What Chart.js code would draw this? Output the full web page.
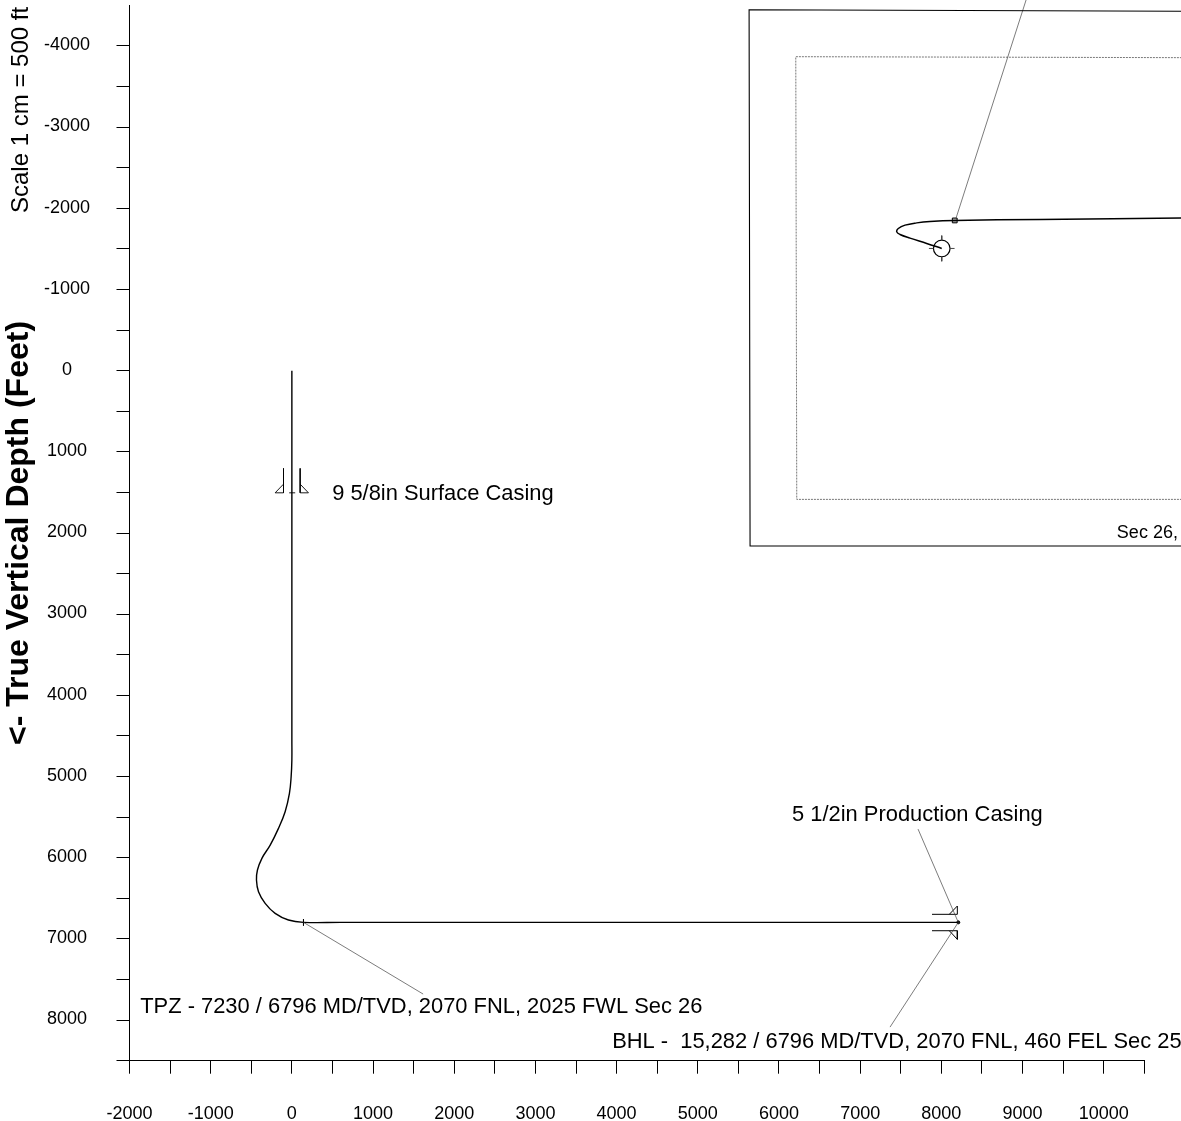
<!DOCTYPE html>
<html>
<head>
<meta charset="utf-8">
<title>Well plot</title>
<script src="https://cdn.jsdelivr.net/npm/chart.js@4"></script>
<style>
  html, body { margin: 0; padding: 0; background: #fff; overflow: hidden; }
  canvas { display: block; }
</style>
</head>
<body>
<canvas id="wellChart" width="1181" height="1121"></canvas>
<script>
// Vertical section (feet)
const sectionX = [0, 0, 0, -9, -30, -83, -165, -267, -369, -424, -436, -411, -329, -206, -42, 143, 600, 8209];
const sectionY = [0, 4550, 4797, 5002, 5207, 5433, 5638, 5844, 6007, 6151, 6275, 6419, 6562, 6685, 6767, 6796, 6796, 6796];

// Surface casing symbol, production casing symbol, TPZ tick (null = pen up)
const surfCasingX = [-103, -103, -206, -103, null, 102, 102, 204, 102, null, -33, 41];
const surfCasingY = [1204, 1505, 1505, 1398, null, 1204, 1505, 1505, 1398, null, 1505, 1505];
const prodCasingX = [7885, 8197, 8197, 8098, null, 7885, 8197, 8197, 8098];
const prodCasingY = [6697, 6697, 6595, 6697, null, 6899, 6899, 7005, 6899];
const tpzTickX = [143, 143];
const tpzTickY = [6756, 6836];

// Leader lines
const leaderX = [143, 1617, null, 7713, 8209, 7368, null, 8181, 9055];
const leaderY = [6796, 7679, null, 5647, 6796, 8086, null, -1878, -4600];

// Plan view inset
const outerBoxX = [11000, 5632, 5644, 11000];
const outerBoxY = [-4427, -4446, 2161, 2161];
const innerBoxX = [11000, 6207, 6219, 11000];
const innerBoxY = [-3855, -3867, 1586, 1586];
const planX = [8005, 7820, 7614, 7491, 7451, 7470, 7553, 7697, 7860, 8165, 9215, 11000];
const planY = [-1505, -1567, -1632, -1677, -1709, -1751, -1792, -1820, -1837, -1850, -1862, -1880];
const targetX = [8005];
const targetY = [-1505];
const targetTickX = [7847, 7903, null, 8107, 8163, null, 8005, 8005, null, 8005, 8005];
const targetTickY = [-1505, -1505, null, -1505, -1505, null, -1663, -1607, null, -1403, -1347];
const kickoffX = [8165];
const kickoffY = [-1850];
const shoeX = [8209];
const shoeY = [6796];

// Text
const noteText = ['9 5/8in Surface Casing', '5 1/2in Production Casing', 'TPZ - 7230 / 6796 MD/TVD, 2070 FNL, 2025 FWL Sec 26', 'BHL -  15,282 / 6796 MD/TVD, 2070 FNL, 460 FEL Sec 25', 'Sec 26,'];
const noteX = [496, 6161, -1868, 3945, 10162];
const noteY = [1522, 5474, 7839, 8270, 2002];
const scaleNote = 'Scale 1 cm = 500 ft';
const yTitle = '<- True Vertical Depth (Feet)';

const FONT = '"Liberation Sans", Arial, sans-serif';

function pts(xs, ys) {
    return xs.map((x, i) => ({ x: x, y: ys[i] }));
}

function path(xs, ys, width, color, extra) {
    return Object.assign({
        data: pts(xs, ys),
        showLine: true,
        borderColor: color,
        borderWidth: width,
        pointRadius: 0,
        clip: false
    }, extra || {});
}

// Only every second tick has a number
function thousands(v) {
    return v % 1000 === 0 ? String(v) : '';
}

// No extra room for the outer tick labels, the plot box is set by the padding
function tightScale(scale) {
    scale.paddingTop = 0;
    scale.paddingBottom = 0;
    scale.paddingLeft = 0;
    scale.paddingRight = 0;
}

// Draw the free text notes on top of the plot
const notesPlugin = {
    id: 'notes',
    afterDatasetsDraw(chart) {
        const ctx = chart.ctx;
        const xs = chart.scales.x;
        const ys = chart.scales.y;
        ctx.save();
        ctx.fillStyle = '#000';
        ctx.textBaseline = 'middle';
        ctx.textAlign = 'left';
        noteText.forEach((t, i) => {
            ctx.font = (t === 'Sec 26,' ? '18px ' : '21.9px ') + FONT;
            ctx.fillText(t, xs.getPixelForValue(noteX[i]), ys.getPixelForValue(noteY[i]));
        });
        ctx.translate(21, 213);
        ctx.rotate(-Math.PI / 2);
        ctx.font = '24px ' + FONT;
        ctx.fillText(scaleNote, 0, 0);
        ctx.restore();
    }
};

new Chart(document.getElementById('wellChart'), {
    type: 'scatter',
    data: {
        datasets: [
            path(outerBoxX, outerBoxY, 1.1, '#000'),
            path(innerBoxX, innerBoxY, 0.8, '#555', { borderDash: [2, 1] }),
            path(leaderX, leaderY, 0.7, '#444'),
            path(sectionX, sectionY, 1.4, '#000', { tension: 0.4 }),
            path(surfCasingX, surfCasingY, 0.9, '#000'),
            path(prodCasingX, prodCasingY, 1, '#000'),
            path(tpzTickX, tpzTickY, 1, '#000'),
            path(planX, planY, 1.5, '#000', { tension: 0.4 }),
            path(targetTickX, targetTickY, 1, '#444'),
            path(targetX, targetY, 1.2, '#000', { showLine: false, pointRadius: 8.3, pointStyle: 'circle', pointBorderColor: '#000', pointBorderWidth: 1.2, pointBackgroundColor: 'transparent' }),
            path(kickoffX, kickoffY, 1, '#000', { showLine: false, pointRadius: 3.4, pointStyle: 'rect', pointBorderColor: '#000', pointBorderWidth: 1, pointBackgroundColor: '#aaa' }),
            path(shoeX, shoeY, 1, '#000', { showLine: false, pointRadius: 1.5, pointBorderColor: '#000', pointBackgroundColor: '#000' })
        ]
    },
    options: {
        responsive: false,
        animation: false,
        layout: { autoPadding: false, padding: { top: 5.3, bottom: 0, left: 0, right: 36.7 } },
        plugins: { legend: { display: false }, tooltip: { enabled: false } },
        scales: {
            x: {
                type: 'linear',
                min: -2000,
                max: 10500,
                afterFit(scale) { scale.height = 60.3; tightScale(scale); },
                border: { color: '#000', width: 1 },
                grid: { drawOnChartArea: false, drawTicks: true, tickLength: 13, tickColor: '#000', tickWidth: 1 },
                ticks: {
                    stepSize: 500,
                    autoSkip: false,
                    maxRotation: 0,
                    padding: 30,
                    color: '#000',
                    font: { family: FONT, size: 18 },
                    callback: thousands
                }
            },
            y: {
                type: 'linear',
                reverse: true,
                min: -4500,
                max: 8500,
                afterFit(scale) { scale.width = 129.5; tightScale(scale); },
                border: { color: '#000', width: 1 },
                title: {
                    display: true,
                    text: yTitle,
                    color: '#000',
                    font: { family: FONT, size: 32, weight: 'bold' },
                    padding: { top: 0, bottom: 0 }
                },
                grid: {
                    drawOnChartArea: false,
                    drawTicks: true,
                    tickLength: 13,
                    tickWidth: 1,
                    tickColor: (c) => (c.tick && c.tick.value === -4500 ? 'transparent' : '#000')
                },
                ticks: {
                    stepSize: 500,
                    autoSkip: false,
                    crossAlign: 'center',
                    padding: 26.5,
                    labelOffset: -0.7,
                    color: '#000',
                    font: { family: FONT, size: 18 },
                    callback: thousands
                }
            }
        }
    },
    plugins: [notesPlugin]
});
</script>
</body>
</html>
